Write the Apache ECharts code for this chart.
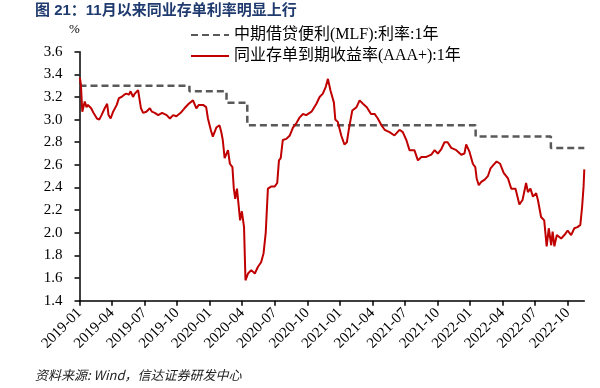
<!DOCTYPE html>
<html><head><meta charset="utf-8">
<script src="https://cdn.jsdelivr.net/npm/echarts@6/dist/echarts.min.js"></script>
<style>html,body{margin:0;padding:0;background:#fff}#c{width:600px;height:388px}</style>
</head><body><div id="c"></div>
<script>
const chartTitle = '图 21：11月以来同业存单利率明显上行';
const sourceNote = '资料来源: Wind，信达证券研发中心';
const unitLabel = '%';
const seriesNames = ['中期借贷便利(MLF):利率:1年', '同业存单到期收益率(AAA+):1年'];
const xTickLabels = ['2019-01','2019-04','2019-07','2019-10','2020-01','2020-04','2020-07','2020-10',
  '2021-01','2021-04','2021-07','2021-10','2022-01','2022-04','2022-07','2022-10'];
const xEndDate = '2022-11-17';

const mlfDates = ['2019-01-01','2019-11-05','2020-02-17','2020-04-15','2022-01-17','2022-08-15','2022-11-17'];
const mlfValues = [3.30, 3.25, 3.15, 2.95, 2.85, 2.75, 2.75];

const ncdDates = [
'2019-01-02','2019-01-05','2019-01-09','2019-01-16','2019-01-21','2019-01-25','2019-02-03','2019-02-09','2019-02-18','2019-02-24',
'2019-03-02','2019-03-11','2019-03-18','2019-03-22','2019-03-28','2019-04-04','2019-04-14','2019-04-20','2019-04-27','2019-05-05',
'2019-05-11','2019-05-18','2019-05-23','2019-05-30','2019-06-04','2019-06-13','2019-06-21','2019-06-27','2019-07-06','2019-07-16',
'2019-07-22','2019-07-30','2019-08-09','2019-08-20','2019-09-02','2019-09-11','2019-09-20','2019-09-29','2019-10-11','2019-10-22',
'2019-11-03','2019-11-15','2019-11-24','2019-12-01','2019-12-13','2019-12-22','2019-12-27','2020-01-04','2020-01-10','2020-01-20',
'2020-01-29','2020-02-03','2020-02-07','2020-02-12','2020-02-21','2020-02-26','2020-03-04','2020-03-08','2020-03-12','2020-03-17',
'2020-03-22','2020-03-26','2020-03-31','2020-04-06','2020-04-10','2020-04-17','2020-04-26','2020-05-06','2020-05-15','2020-05-24',
'2020-05-31','2020-06-06','2020-06-12','2020-06-22','2020-07-01','2020-07-08','2020-07-13','2020-07-18','2020-07-24','2020-08-03',
'2020-08-13','2020-08-22','2020-09-01','2020-09-10','2020-09-19','2020-09-28','2020-10-13','2020-10-27','2020-11-05','2020-11-14',
'2020-11-22','2020-11-28','2020-12-05','2020-12-10','2020-12-15','2020-12-19','2020-12-26','2021-01-05','2021-01-14','2021-01-21',
'2021-01-27','2021-02-05','2021-02-16','2021-02-24','2021-03-05','2021-03-16','2021-03-28','2021-04-07','2021-04-16','2021-04-26',
'2021-05-05','2021-05-19','2021-06-02','2021-06-16','2021-06-25','2021-07-05','2021-07-14','2021-07-28','2021-08-07','2021-08-17',
'2021-08-31','2021-09-14','2021-09-23','2021-10-02','2021-10-12','2021-10-21','2021-10-30','2021-11-09','2021-11-23','2021-12-07',
'2021-12-16','2021-12-21','2021-12-30','2022-01-09','2022-01-16','2022-01-20','2022-01-26','2022-02-02','2022-02-11','2022-02-19',
'2022-02-26','2022-03-06','2022-03-15','2022-03-25','2022-04-04','2022-04-16','2022-04-25','2022-05-07','2022-05-18','2022-05-27',
'2022-06-06','2022-06-11','2022-06-18','2022-06-25','2022-07-04','2022-07-09','2022-07-18','2022-07-27','2022-08-03','2022-08-09',
'2022-08-16','2022-08-20','2022-08-25','2022-09-01','2022-09-13','2022-09-22','2022-10-01','2022-10-11','2022-10-20','2022-10-29',
'2022-11-06','2022-11-11','2022-11-15','2022-11-17'
];
const ncdValues = [
3.37,3.31,3.07,3.16,3.11,3.13,3.10,3.06,3.01,3.00,
3.04,3.10,3.14,3.04,3.01,3.07,3.13,3.19,3.20,3.22,
3.23,3.22,3.25,3.20,3.23,3.26,3.10,3.06,3.07,3.10,
3.07,3.06,3.04,3.06,3.04,3.01,3.04,3.03,3.06,3.10,
3.14,3.17,3.10,3.13,3.13,3.11,3.01,2.91,2.85,2.93,
2.95,2.89,2.82,2.66,2.73,2.61,2.58,2.39,2.30,2.39,
2.38,2.11,2.19,2.05,1.58,1.64,1.67,1.64,1.70,1.74,
1.82,2.00,2.39,2.41,2.41,2.44,2.64,2.66,2.82,2.83,
2.86,2.93,2.97,3.02,3.05,3.04,3.07,3.14,3.20,3.23,
3.29,3.36,3.26,3.25,3.15,3.00,2.98,2.86,2.78,2.80,
2.92,3.08,3.11,3.17,3.14,3.11,3.05,3.05,3.01,2.95,
2.91,2.89,2.86,2.91,2.89,2.82,2.73,2.73,2.64,2.67,
2.67,2.69,2.73,2.70,2.74,2.80,2.80,2.75,2.73,2.69,
2.70,2.78,2.72,2.61,2.58,2.48,2.42,2.45,2.47,2.50,
2.57,2.60,2.63,2.61,2.53,2.48,2.39,2.39,2.25,2.29,
2.44,2.36,2.39,2.32,2.35,2.29,2.14,2.11,1.88,2.04,
1.89,2.01,1.88,1.98,1.95,1.98,2.02,1.98,2.04,2.05,
2.07,2.23,2.41,2.56
];

function monthIndex(s) {
  const p = s.split('-').map(Number);
  const dim = new Date(p[0], p[1], 0).getDate();
  return (p[0] - 2019) * 12 + (p[1] - 1) + ((p[2] || 1) - 1) / dim;
}
function monthLabel(v) {
  const r = Math.round(v);
  const y = 2019 + Math.floor(r / 12);
  const m = r % 12 + 1;
  return y + '-' + (m < 10 ? '0' + m : m);
}

const serif = '"Liberation Serif","Times New Roman","Noto Sans CJK SC",serif';
const xTickVals = xTickLabels.map(s => monthIndex(s + '-01'));
const xMax = monthIndex(xEndDate);

const chart = echarts.init(document.getElementById('c'), null, {renderer: 'canvas'});
chart.setOption({
  animation: false,
  backgroundColor: '#fff',
  title: [
    {text: chartTitle, left: 35, top: 3, padding: 0,
     textStyle: {fontSize: 15, fontWeight: 'bold', color: '#1F3A6E', fontFamily: '"Liberation Sans","Noto Sans CJK SC",sans-serif'}},
    {text: unitLabel, left: 69, top: 23, padding: 0,
     textStyle: {fontSize: 13, fontWeight: 'normal', color: '#000', fontFamily: serif}},
    {text: sourceNote, left: 35, top: 369, padding: 0,
     textStyle: {fontSize: 13, fontWeight: 'normal', fontStyle: 'italic', color: '#222', fontFamily: '"Noto Sans CJK SC",sans-serif'}}
  ],
  legend: {
    orient: 'vertical', left: 185, top: 22, itemWidth: 38, itemHeight: 14, itemGap: 5,
    itemStyle: {opacity: 0},
    textStyle: {fontSize: 16, color: '#000', fontFamily: serif},
    data: seriesNames
  },
  grid: {left: 79.5, right: 15.7, top: 51.7, bottom: 87.3, containLabel: false, outerBoundsMode: 'none'},
  xAxis: {
    type: 'value', min: 0, max: xMax, interval: 3,
    splitLine: {show: false},
    axisLine: {lineStyle: {color: '#000', width: 1.5}},
    axisTick: {show: true, length: 5, lineStyle: {color: '#000', width: 1.5}, customValues: xTickVals},
    axisLabel: {rotate: 45, margin: 10, fontSize: 15, color: '#000', fontFamily: serif,
      customValues: xTickVals, formatter: v => monthLabel(v)}
  },
  yAxis: {
    type: 'value', min: 1.4, max: 3.6, interval: 0.2,
    splitLine: {show: false},
    axisLine: {show: true, lineStyle: {color: '#000', width: 1.5}},
    axisTick: {show: true, length: 5, inside: false, lineStyle: {color: '#000', width: 1.5}},
    axisLabel: {margin: 17, fontSize: 15, color: '#000', fontFamily: serif, formatter: v => v.toFixed(1)}
  },
  series: [
    {name: seriesNames[0], type: 'line', step: 'end', symbol: 'none',
     lineStyle: {color: '#595959', width: 2.5, type: [7, 4]}, itemStyle: {color: '#595959'},
     data: mlfDates.map((d, i) => [monthIndex(d), mlfValues[i]])},
    {name: seriesNames[1], type: 'line', symbol: 'none',
     lineStyle: {color: '#C00000', width: 2}, itemStyle: {color: '#C00000'},
     data: ncdDates.map((d, i) => [monthIndex(d), ncdValues[i]])}
  ]
});
</script></body></html>
